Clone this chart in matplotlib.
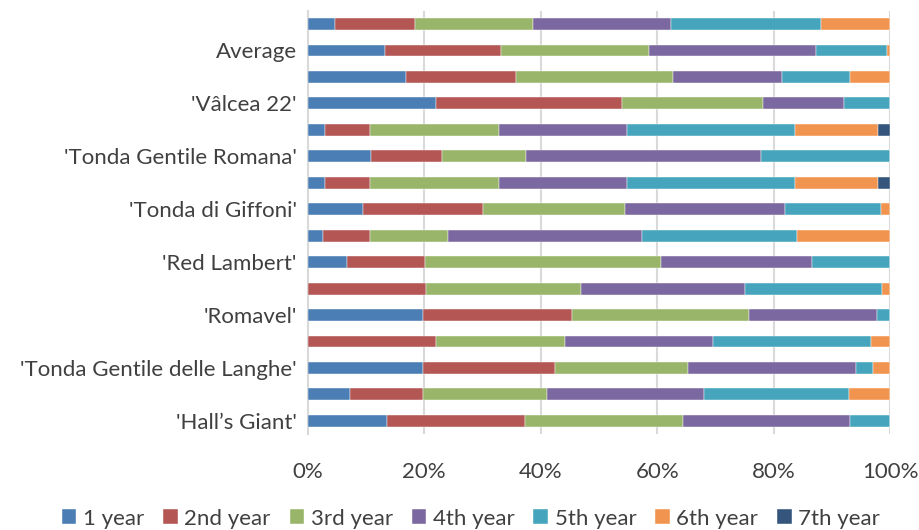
import numpy as np
import matplotlib.pyplot as plt

# bars listed bottom to top, in percent
labels = ["'Hall\u2019s Giant'", "", "'Tonda Gentile delle Langhe'", "", "'Romavel'", "",
          "'Red Lambert'", "", "'Tonda di Giffoni'", "", "'Tonda Gentile Romana'", "",
          "'V\u00e2lcea 22'", "", "Average", ""]

year1 = [13.6, 7.2, 19.7, 0.0, 19.7, 0.0, 6.7, 2.6, 9.4, 2.9, 10.8, 2.9, 22.0, 16.9, 13.3, 4.6]
year2 = [23.7, 12.5, 22.7, 22.0, 25.7, 20.3, 13.5, 8.0, 20.7, 7.7, 12.2, 7.7, 32.0, 18.8, 19.9, 13.8]
year3 = [27.2, 21.4, 22.9, 22.1, 30.3, 26.6, 40.5, 13.5, 24.3, 22.2, 14.5, 22.2, 24.1, 27.1, 25.4, 20.3]
year4 = [28.7, 26.9, 28.8, 25.5, 22.1, 28.2, 25.9, 33.3, 27.6, 22.0, 40.3, 22.0, 14.0, 18.6, 28.7, 23.7]
year5 = [6.8, 25.0, 3.0, 27.2, 2.2, 23.5, 13.4, 26.7, 16.4, 28.8, 22.2, 28.8, 7.9, 11.8, 12.1, 25.8]
year6 = [0.0, 7.0, 2.9, 3.2, 0.0, 1.4, 0.0, 15.9, 1.6, 14.4, 0.0, 14.4, 0.0, 6.8, 0.6, 11.8]
year7 = [0.0, 0.0, 0.0, 0.0, 0.0, 0.0, 0.0, 0.0, 0.0, 2.0, 0.0, 2.0, 0.0, 0.0, 0.0, 0.0]

series = [year1, year2, year3, year4, year5, year6, year7]
names = ["1 year", "2nd year", "3rd year", "4th year", "5th year", "6th year", "7th year"]
colors = ["#4a7eb4", "#b35654", "#98b56a", "#7b68a0", "#46a5bd", "#f0944f", "#35557c"]

plt.rcParams["font.family"] = ["Lato", "DejaVu Sans"]

data = np.array(series)
data = data / data.sum(axis=0) * 100  # 100% stacked

fig = plt.figure(figsize=(9.19, 5.30), dpi=100)
ax = fig.add_axes([0.335, 0.181, 0.6335, 0.7986])

y = np.arange(len(labels))
left = np.zeros(len(labels))
for vals, name, c in zip(data, names, colors):
    ax.barh(y, vals, left=left, height=0.45, color=c, label=name,
            edgecolor="white", linewidth=0.3, zorder=3)
    left += vals

ax.set_xlim(0, 100)
ax.set_ylim(-0.5, len(labels) - 0.5)
ax.set_xticks(np.arange(0, 101, 20))
ax.set_xticklabels([f"{v}%" for v in range(0, 101, 20)], fontsize=16, color="#404040")
ax.set_yticks(y)
ax.set_yticklabels(labels, fontsize=16, color="#404040")
ax.tick_params(length=0, pad=8)
ax.tick_params(axis="x", pad=20)

ax.grid(axis="x", color="#d9d9d9", linewidth=1.5, zorder=0)
for s in ["top", "right", "bottom"]:
    ax.spines[s].set_visible(False)
ax.spines["left"].set_color("#d9d9d9")
ax.spines["left"].set_linewidth(1.5)

fig.legend(loc="lower center", bbox_to_anchor=(0.5125, -0.035), ncol=7, frameon=False,
           fontsize=16, handlelength=0.65, handleheight=0.65, handletextpad=0.3,
           columnspacing=0.85, labelcolor="#404040")

fig.savefig("out.png", dpi=100)
